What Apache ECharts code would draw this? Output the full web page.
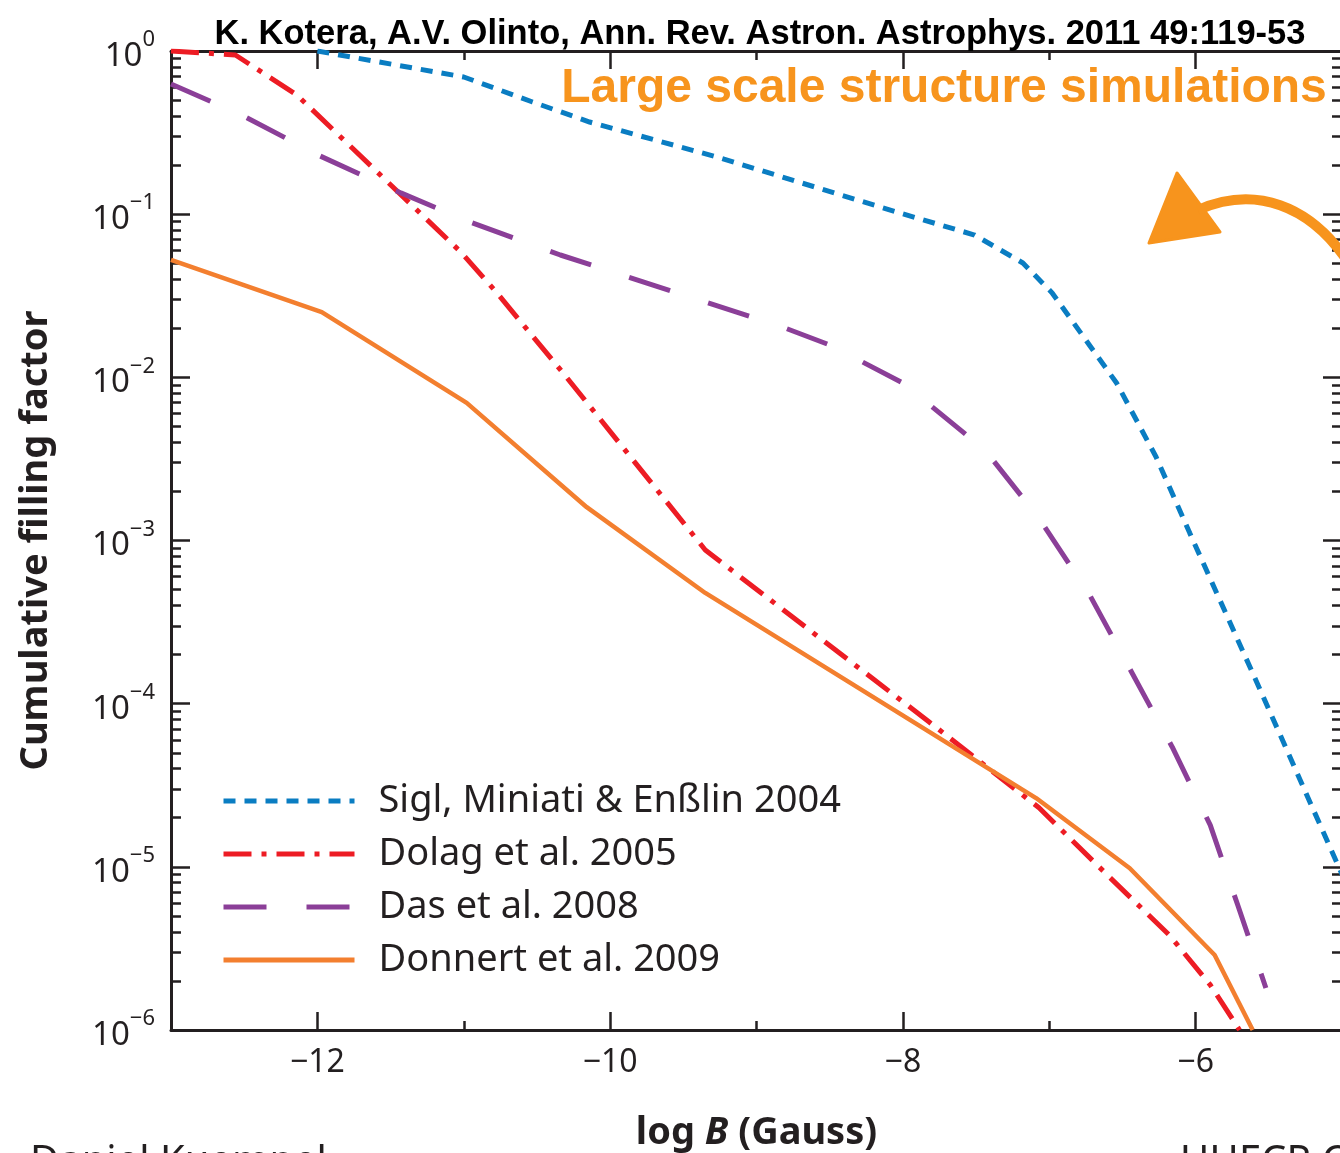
<!DOCTYPE html>
<html>
<head>
<meta charset="utf-8">
<script src="https://cdn.jsdelivr.net/npm/echarts/dist/echarts.min.js"></script>
<style>
html, body { margin: 0; padding: 0; background: #fff; }
#chart { width: 1340px; height: 1153px; }
</style>
</head>
<body>
<div id="chart"></div>
<script>
// 数据: x = log B (Gauss), y = cumulative filling factor
var siglX = [-12.0, -11.0, -10.53, -10.14, -9.27, -8.02, -7.51, -7.18, -6.98, -6.54, -6.27, -6.04, -5.58, -5.0];
var siglY = [1.0, 0.693, 0.487, 0.367, 0.224, 0.1016, 0.0745, 0.0502, 0.0329, 0.00923, 0.00325, 0.00111, 1.34e-4, 9.0e-6];

var dolagX = [-13.0, -12.56, -12.14, -11.02, -10.79, -10.32, -9.35, -7.82, -7.07, -6.59, -6.18, -5.90, -5.70];
var dolagY = [1.0, 0.945, 0.537, 0.0586, 0.0343, 0.0106, 8.75e-4, 7.72e-5, 2.30e-5, 8.67e-6, 3.82e-6, 1.89e-6, 1.0e-6];

var dasX = [-13.0, -12.53, -11.98, -11.43, -10.96, -10.34, -8.84, -8.50, -8.0, -7.44, -7.07, -6.72, -6.16, -5.90, -5.71, -5.52];
var dasY = [0.628, 0.411, 0.227, 0.135, 0.0896, 0.0562, 0.0206, 0.0158, 0.00923, 0.00359, 0.00137, 4.57e-4, 5.43e-5, 1.80e-5, 5.75e-6, 1.81e-6];

var donnertX = [-13.0, -11.97, -10.98, -10.16, -9.35, -7.09, -6.45, -5.87, -5.61];
var donnertY = [0.0524, 0.0251, 0.00697, 0.0016, 4.77e-4, 2.64e-5, 9.8e-6, 2.88e-6, 1.0e-6];

var seriesNames = ['Sigl, Miniati & Enßlin 2004', 'Dolag et al. 2005', 'Das et al. 2008', 'Donnert et al. 2009'];

// 刻度
var xMajorTicks = [-12, -10, -8, -6];
var xMinorTicks = [-11, -9, -7];
var yDecades = [-6, -5, -4, -3, -2, -1, 0];
var yMinorSteps = [2, 3, 4, 5, 6, 7, 8, 9];

var ink = '#231f20';
var orange = '#f7941d';

function pairs(xs, ys) {
	return xs.map(function (x, i) { return [x, ys[i]]; });
}

var yMajorValues = yDecades.map(function (d) { return Math.pow(10, d); });
var yMinorValues = [];
yDecades.slice(0, -1).forEach(function (d) {
	yMinorSteps.forEach(function (m) { yMinorValues.push(m * Math.pow(10, d)); });
});

var myChart = echarts.init(document.getElementById('chart'));

// 两个重叠的 grid：一个放主刻度，一个放次刻度
var gridRect = { left: 171, top: 51, width: 1171, height: 979, containLabel: false, outerBoundsMode: 'none' };

function xAxisCfg(gridIndex, pos, ticks, len, withLabel, withLine) {
	return {
		type: 'value', gridIndex: gridIndex, position: pos, min: -13, max: -5,
		axisLine: { show: withLine, onZero: false, lineStyle: { color: ink, width: 3 } },
		axisTick: { show: true, inside: true, length: len, customValues: ticks, lineStyle: { color: ink, width: 2.5 } },
		axisLabel: {
			show: withLabel, customValues: ticks, margin: 17,
			fontFamily: 'Noto Sans', fontSize: 32, color: ink,
			formatter: function (v) { return '\u2212' + Math.abs(v); }
		},
		splitLine: { show: false }
	};
}

function yAxisCfg(gridIndex, pos, ticks, len, withLabel, withLine) {
	return {
		type: 'log', logBase: 10, gridIndex: gridIndex, position: pos, min: 1e-6, max: 1,
		axisLine: { show: withLine, lineStyle: { color: ink, width: 3 } },
		axisTick: { show: true, inside: true, length: len, customValues: ticks, lineStyle: { color: ink, width: 2.5 } },
		axisLabel: {
			show: withLabel, customValues: ticks, margin: 16,
			formatter: function (v) {
				var e = Math.round(Math.log10(v));
				return '{b|10}{s|' + (e < 0 ? '\u2212' + (-e) : e) + '}';
			},
			rich: {
				b: { fontFamily: 'Noto Sans', fontSize: 33, color: ink, lineHeight: 44, verticalAlign: 'bottom' },
				s: { fontFamily: 'Noto Sans', fontSize: 22, color: ink, lineHeight: 32, verticalAlign: 'top' }
			}
		},
		splitLine: { show: false }
	};
}

var xBottom = xAxisCfg(0, 'bottom', xMajorTicks, 18, true, true);
xBottom.name = '{a|log }{b|B}{a| (Gauss)}';
xBottom.nameLocation = 'middle';
xBottom.nameGap = 84;
xBottom.nameTextStyle = {
	rich: {
		a: { fontFamily: 'Noto Sans', fontWeight: 'bold', fontSize: 38, color: ink },
		b: { fontFamily: 'Noto Sans', fontWeight: 'bold', fontStyle: 'italic', fontSize: 38, color: ink }
	}
};

var yLeft = yAxisCfg(0, 'left', yMajorValues, 19, true, true);
yLeft.name = 'Cumulative filling factor';
yLeft.nameLocation = 'middle';
yLeft.nameRotate = 90;
yLeft.nameGap = 116;
yLeft.nameTextStyle = { fontFamily: 'Noto Sans', fontWeight: 'bold', fontSize: 38, color: ink };

var option = {
	backgroundColor: '#fff',
	animation: false,
	title: [{
		text: 'K. Kotera, A.V. Olinto, Ann. Rev. Astron. Astrophys. 2011 49:119-53',
		left: 755, top: 12, textAlign: 'center',
		textStyle: { fontFamily: 'Liberation Sans', fontWeight: 'bold', fontSize: 34.5, color: '#000' }
	}, {
		text: 'Large scale structure simulations',
		left: 939, top: 60, textAlign: 'center',
		textStyle: { fontFamily: 'Liberation Sans', fontWeight: 'bold', fontSize: 48, color: orange }
	}],
	grid: [
		Object.assign({}, gridRect),
		Object.assign({}, gridRect)
	],
	xAxis: [
		xBottom,
		xAxisCfg(0, 'top', xMajorTicks, 18, false, true),
		xAxisCfg(1, 'bottom', xMinorTicks, 9, false, false),
		xAxisCfg(1, 'top', xMinorTicks, 9, false, false)
	],
	yAxis: [
		yLeft,
		yAxisCfg(0, 'right', yMajorValues, 19, false, true),
		yAxisCfg(1, 'left', yMinorValues, 10, false, false),
		yAxisCfg(1, 'right', yMinorValues, 10, false, false)
	],
	legend: {
		left: 216, top: 776, orient: 'vertical',
		itemWidth: 131, itemHeight: 20, itemGap: 13,
		itemStyle: { opacity: 0 },
		lineStyle: { width: 5 },
		textStyle: { fontFamily: 'Noto Sans', fontSize: 38, color: ink, lineHeight: 40, padding: [0, 0, 0, 19] },
		data: seriesNames
	},
	series: [{
		name: seriesNames[0], type: 'line', xAxisIndex: 0, yAxisIndex: 0,
		data: pairs(siglX, siglY), symbol: 'none',
		itemStyle: { color: '#0a7dc2' },
		lineStyle: { color: '#0a7dc2', width: 5, type: [12, 9] }
	}, {
		name: seriesNames[1], type: 'line', xAxisIndex: 0, yAxisIndex: 0,
		data: pairs(dolagX, dolagY), symbol: 'none',
		itemStyle: { color: '#ed1c24' },
		lineStyle: { color: '#ed1c24', width: 5, type: [28, 10, 5, 10] }
	}, {
		name: seriesNames[2], type: 'line', xAxisIndex: 0, yAxisIndex: 0,
		data: pairs(dasX, dasY), symbol: 'none',
		itemStyle: { color: '#8b3f98' },
		lineStyle: { color: '#8b3f98', width: 5, type: [43, 40] }
	}, {
		name: seriesNames[3], type: 'line', xAxisIndex: 0, yAxisIndex: 0,
		data: pairs(donnertX, donnertY), symbol: 'none',
		itemStyle: { color: '#f37f2f' },
		lineStyle: { color: '#f37f2f', width: 4.5 }
	}],
	graphic: [{
		// 手绘箭头
		type: 'polygon', z: 10,
		shape: { points: [[1177, 173], [1149, 243], [1220, 232]] },
		style: { fill: orange, stroke: orange, lineWidth: 3, lineJoin: 'round' }
	}, {
		type: 'bezierCurve', z: 10,
		shape: { x1: 1198, y1: 210, cpx1: 1255, cpy1: 185, cpx2: 1310, cpy2: 205, x2: 1348, y2: 262 },
		style: { stroke: orange, lineWidth: 10, fill: null }
	}, {
		type: 'text', left: 30, top: 1143,
		style: { text: 'Daniel Kuempel', fontFamily: 'Noto Sans', fontSize: 40, fill: ink }
	}, {
		type: 'text', left: 1180, top: 1143,
		style: { text: 'UHECR Cosmic Rays', fontFamily: 'Noto Sans', fontSize: 40, fill: ink }
	}]
};

myChart.setOption(option);
window.addEventListener('resize', function () {
	myChart.resize();
});
</script>
</body>
</html>
